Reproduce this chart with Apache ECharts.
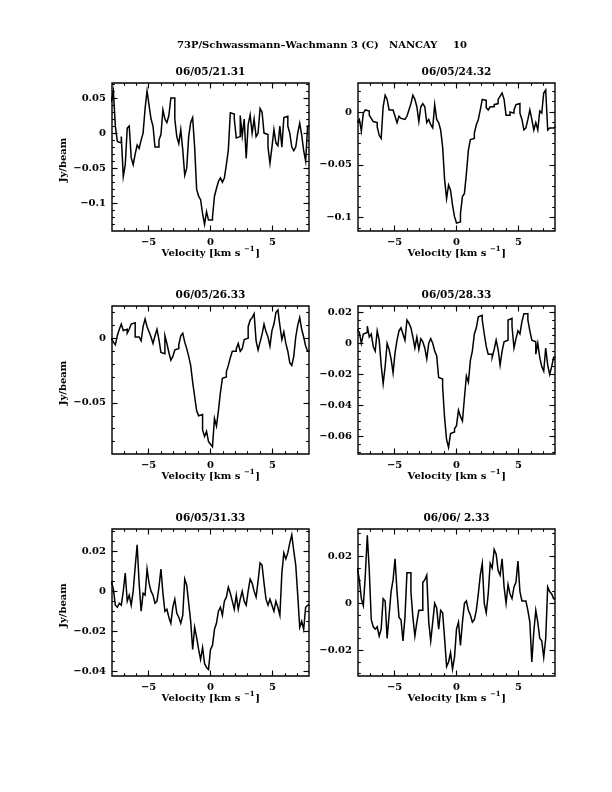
<!DOCTYPE html>
<html><head><meta charset="utf-8">
<script src="https://cdn.jsdelivr.net/npm/echarts@6/dist/echarts.min.js"></script>
<style>html,body{margin:0;padding:0;background:#fff}#c{width:612px;height:792px}</style>
</head><body><div id="c"></div>
<script>
// ---------------- data ----------------
const velocity = [
 -7.92,-7.76,-7.60,-7.44,-7.28,-7.12,-6.96,-6.80,-6.64,-6.48,
 -6.32,-6.16,-6.00,-5.84,-5.68,-5.52,-5.36,-5.20,-5.04,-4.88,
 -4.72,-4.56,-4.40,-4.24,-4.08,-3.92,-3.76,-3.60,-3.44,-3.28,
 -3.12,-2.96,-2.80,-2.64,-2.48,-2.32,-2.16,-2.00,-1.84,-1.68,
 -1.52,-1.36,-1.20,-1.04,-0.88,-0.72,-0.56,-0.40,-0.24,-0.08,
 0.08,0.24,0.40,0.56,0.72,0.88,1.04,1.20,1.36,1.52,
 1.68,1.84,2.00,2.16,2.32,2.48,2.64,2.80,2.96,3.12,
 3.28,3.44,3.60,3.76,3.92,4.08,4.24,4.40,4.56,4.72,
 4.88,5.04,5.20,5.36,5.52,5.68,5.84,6.00,6.16,6.32,
 6.48,6.64,6.80,6.96,7.12,7.28,7.44,7.60,7.76,7.92];
const channelWidth = 0.16;

const flux_0605_2131 = [
 0.045,0.06,0.01,-0.012,-0.014,-0.005,-0.062,-0.045,0.007,0.01,
 -0.035,-0.045,-0.03,-0.017,-0.022,-0.01,0.0,0.035,0.06,0.04,
 0.02,0.01,-0.02,-0.02,-0.01,-0.002,0.033,0.02,0.015,0.025,
 0.05,0.05,0.02,-0.005,-0.015,0.005,-0.024,-0.06,-0.05,-0.005,
 0.015,0.022,-0.02,-0.08,-0.09,-0.095,-0.115,-0.13,-0.112,-0.124,
 -0.124,-0.12,-0.09,-0.079,-0.069,-0.064,-0.07,-0.064,-0.045,-0.024,
 0.029,0.027,0.02,-0.007,-0.005,0.025,-0.004,0.02,-0.036,0.012,
 0.026,0.0,0.02,-0.005,0.0,0.035,0.03,0.0,-0.002,-0.02,
 -0.043,-0.02,0.005,-0.014,-0.018,0.01,-0.02,0.022,0.024,0.01,
 0.0,-0.02,-0.025,-0.02,0.0,0.014,-0.003,-0.025,-0.04,0.01];

const flux_0605_2432 = [
 -0.010,-0.007,-0.018,-0.001,0.002,0.001,-0.003,-0.006,-0.009,-0.010,
 -0.014,-0.022,-0.025,0.005,0.016,0.012,0.002,0.002,0.001,-0.004,
 -0.010,-0.004,-0.006,-0.007,-0.006,-0.004,0.002,0.008,0.016,0.012,
 0.005,-0.009,0.005,0.008,0.005,-0.010,-0.007,-0.012,-0.015,0.007,
 -0.007,-0.010,-0.017,-0.033,-0.064,-0.082,-0.069,-0.074,-0.088,-0.099,
 -0.105,-0.104,-0.096,-0.080,-0.077,-0.058,-0.036,-0.026,-0.025,-0.020,
 -0.012,-0.007,0.002,0.012,0.011,0.004,0.002,0.005,0.005,0.007,
 0.008,0.012,0.015,0.018,0.012,-0.003,-0.003,0.000,-0.001,0.002,
 0.007,0.008,-0.001,-0.007,-0.017,-0.015,-0.007,0.002,-0.007,-0.017,
 -0.010,-0.017,0.001,-0.001,0.018,0.021,-0.017,-0.015,-0.015,-0.014];

const flux_0605_2633 = [
 0.000,-0.003,-0.005,0.002,0.007,0.011,0.006,0.007,0.004,0.007,
 0.011,0.012,0.001,0.001,0.000,-0.002,0.009,0.015,0.009,0.005,
 0.001,-0.004,0.002,0.007,-0.001,-0.011,-0.012,0.002,-0.004,-0.011,
 -0.017,-0.014,-0.009,-0.008,-0.005,0.002,0.004,-0.003,-0.008,-0.014,
 -0.021,-0.034,-0.045,-0.056,-0.060,-0.059,-0.071,-0.076,-0.072,-0.080,
 -0.082,-0.084,-0.062,-0.068,-0.056,-0.042,-0.031,-0.030,-0.026,-0.021,
 -0.015,-0.010,-0.010,-0.008,-0.004,-0.010,-0.008,-0.001,0.000,0.009,
 0.014,0.016,0.019,-0.002,-0.009,-0.003,0.003,0.011,0.005,0.001,
 -0.006,0.006,0.011,0.020,0.022,0.010,-0.001,0.005,-0.004,-0.010,
 -0.019,-0.021,-0.014,0.001,0.010,0.016,0.007,0.001,-0.006,-0.010];

const flux_0605_2833 = [
 0.009,0.007,0.000,0.006,0.007,0.011,0.004,0.006,-0.002,-0.005,
 0.008,0.002,-0.014,-0.026,-0.015,0.000,-0.004,-0.010,-0.019,-0.006,
 0.002,0.008,0.010,0.006,0.002,0.015,0.013,0.010,0.004,-0.003,
 0.004,-0.004,0.003,0.001,-0.003,-0.010,0.000,0.003,0.000,-0.005,
 -0.008,-0.022,-0.023,-0.028,-0.048,-0.062,-0.067,-0.058,-0.057,-0.055,
 -0.053,-0.043,-0.047,-0.050,-0.035,-0.021,-0.025,-0.011,-0.005,0.006,
 0.010,0.017,0.018,0.015,0.006,-0.002,-0.007,-0.007,-0.009,-0.004,
 0.002,-0.004,-0.014,-0.005,0.001,0.002,0.015,0.016,0.011,-0.003,
 0.003,0.008,0.006,0.014,0.019,0.019,0.015,0.008,0.002,0.001,
 -0.007,0.000,-0.009,-0.015,-0.018,-0.003,-0.014,-0.020,-0.015,-0.009];

const flux_0605_3133 = [
 0.005,0.001,-0.007,-0.008,-0.006,-0.007,0.000,0.009,-0.005,-0.002,
 -0.007,0.000,0.012,0.023,0.004,-0.010,-0.001,-0.002,0.011,0.004,
 0.000,-0.002,-0.006,-0.005,0.002,0.011,-0.001,-0.010,-0.009,-0.013,
 -0.016,-0.008,-0.004,-0.011,-0.013,-0.016,-0.012,0.006,0.003,-0.006,
 -0.015,-0.029,-0.018,-0.023,-0.029,-0.034,-0.028,-0.036,-0.038,-0.039,
 -0.029,-0.027,-0.019,-0.016,-0.010,-0.008,-0.012,-0.005,-0.003,0.002,
 -0.001,-0.005,-0.009,-0.002,-0.009,-0.004,0.000,-0.005,-0.007,0.000,
 0.006,0.004,0.000,-0.003,0.005,0.014,0.013,0.004,-0.004,-0.007,
 -0.004,-0.007,-0.010,-0.005,-0.008,-0.012,0.009,0.019,0.016,0.019,
 0.024,0.028,0.020,0.013,-0.002,-0.018,-0.015,-0.019,-0.008,-0.007];

const flux_0606_0233 = [
 0.015,0.010,0.002,-0.001,0.012,0.029,0.014,-0.007,-0.010,-0.011,
 -0.010,-0.014,-0.011,0.002,0.001,-0.015,-0.005,0.005,0.010,0.019,
 0.005,-0.006,-0.007,-0.016,-0.006,0.013,0.013,0.005,-0.006,-0.014,
 -0.008,-0.003,-0.003,0.009,0.010,0.012,-0.008,-0.016,-0.008,0.000,
 -0.002,-0.011,-0.003,-0.004,-0.015,-0.027,-0.025,-0.021,-0.028,-0.023,
 -0.011,-0.008,-0.018,-0.008,0.000,0.001,-0.003,-0.005,-0.008,-0.007,
 -0.003,0.004,0.012,0.017,0.000,-0.004,0.004,0.017,0.015,0.023,
 0.021,0.014,0.012,0.019,0.007,0.000,0.008,0.004,0.002,0.007,
 0.009,0.018,0.005,0.001,0.001,0.001,-0.003,-0.008,-0.025,-0.012,
 -0.003,-0.008,-0.015,-0.016,-0.023,-0.015,0.007,0.005,0.004,0.002];

const panelTitles = ['06/05/21.31','06/05/24.32','06/05/26.33','06/05/28.33','06/05/31.33','06/06/ 2.33'];
const xTickLabels = [-5, 0, 5];
const xMinorTicks = [-7,-6,-5,-4,-3,-2,-1,0,1,2,3,4,5,6,7];
const yTickLabels = [
 [-0.1,-0.05,0,0.05],
 [-0.1,-0.05,0],
 [-0.05,0],
 [-0.06,-0.04,-0.02,0,0.02],
 [-0.04,-0.02,0,0.02],
 [-0.02,0,0.02]];
const fluxes = [flux_0605_2131, flux_0605_2432, flux_0605_2633, flux_0605_2833, flux_0605_3133, flux_0606_0233];
const mainTitle = ['73P/Schwassmann\u2013Wachmann 3 (C)', 'NANCAY', '10'];
const xNameParts = ['Velocity [km s ', '\u22121', ']'];
const yName = 'Jy/beam';

// ---------------- axis ranges & layout ----------------
const yRange = [[-0.1396,0.0714],[-0.1126,0.0275],[-0.0896,0.025],[-0.0712,0.024],[-0.0422,0.0309],[-0.031,0.0317]];
const yMinorStep = [0.01,0.01,0.01,0.005,0.005,0.005];
const xRange = [-7.95, 7.95];
const boxes = [
 {left:112, top:83, width:197, height:148},
 {left:358, top:83, width:197, height:148},
 {left:112, top:306, width:197, height:148},
 {left:358, top:306, width:197, height:148},
 {left:112, top:529, width:197, height:147},
 {left:358, top:529, width:197, height:147}];
const titleX = [177, 389, 453];

const FONT = '"DejaVu Serif", serif';
const fmt = v => v === 0 ? '0' : String(v).replace('-', '\u2212');
function minorTicks(min, max, step) {
  const out = [];
  for (let k = Math.ceil(min / step - 1e-9); k * step <= max + 1e-12; k++) out.push(+(k * step).toFixed(6));
  return out;
}
const mctx = document.createElement('canvas').getContext('2d');
function textW(t, font) { mctx.font = font; return mctx.measureText(t).width; }

const labelStyle = {color:'#000', fontFamily:FONT, fontWeight:'bold', fontSize:10};
const MAJ = 5.5, MIN = 2.8;

const grid = [], xAxis = [], yAxis = [], series = [], graphic = [];
boxes.forEach((b, g) => {
  grid.push({left:b.left, top:b.top, width:b.width, height:b.height, show:true, borderColor:'#000', borderWidth:1.4, backgroundColor:'transparent'});
  const xc = {type:'value', gridIndex:g, min:xRange[0], max:xRange[1], axisLine:{show:false, onZero:false}, splitLine:{show:false}};
  const tick = (vals, len) => ({show:true, inside:true, length:len, customValues:vals, lineStyle:{color:'#000', width:1.1}});
  xAxis.push(Object.assign({}, xc, {position:'bottom', axisTick:tick(xTickLabels, MAJ), axisLabel:Object.assign({show:true, customValues:xTickLabels, formatter:fmt, margin:6}, labelStyle)}));
  xAxis.push(Object.assign({}, xc, {position:'bottom', axisTick:tick(xMinorTicks, MIN), axisLabel:{show:false}}));
  xAxis.push(Object.assign({}, xc, {position:'top', axisTick:tick(xTickLabels, MAJ), axisLabel:{show:false}}));
  xAxis.push(Object.assign({}, xc, {position:'top', axisTick:tick(xMinorTicks, MIN), axisLabel:{show:false}}));

  const [ymin, ymax] = yRange[g];
  const ym = minorTicks(ymin, ymax, yMinorStep[g]);
  const yc = {type:'value', gridIndex:g, min:ymin, max:ymax, axisLine:{show:false, onZero:false}, splitLine:{show:false}};
  yAxis.push(Object.assign({}, yc, {position:'left', axisTick:tick(yTickLabels[g], MAJ), axisLabel:Object.assign({show:true, customValues:yTickLabels[g], formatter:fmt, margin:6}, labelStyle)}));
  yAxis.push(Object.assign({}, yc, {position:'left', axisTick:tick(ym, MIN), axisLabel:{show:false}}));
  yAxis.push(Object.assign({}, yc, {position:'right', axisTick:tick(yTickLabels[g], MAJ), axisLabel:{show:false}}));
  yAxis.push(Object.assign({}, yc, {position:'right', axisTick:tick(ym, MIN), axisLabel:{show:false}}));

  // histogram (binned spectrum): each channel drawn as a flat step across its width
  const pts = [];
  velocity.forEach((v, i) => {
    pts.push([v - channelWidth / 2, fluxes[g][i]]);
    pts.push([v + channelWidth / 2, fluxes[g][i]]);
  });
  series.push({type:'line', xAxisIndex:g*4, yAxisIndex:g*4, showSymbol:false, symbol:'none',
    lineStyle:{color:'#000', width:1.5, join:'miter'}, silent:true, data: pts});

  const cx = b.left + b.width / 2;
  graphic.push({type:'text', x:cx, y:b.top - 10.6, silent:true,
    style:{text:panelTitles[g], font:'bold 10.5px ' + FONT, fill:'#000', align:'center', verticalAlign:'middle'}});
  // x-axis name with superscript
  const f1 = 'bold 10px ' + FONT, f2 = 'bold 7px ' + FONT;
  const w1 = textW(xNameParts[0], f1), w2 = textW(xNameParts[1], f2), w3 = textW(xNameParts[2], f1);
  const x0 = cx - (w1 + w2 + w3) / 2, yN = b.top + b.height + 22;
  graphic.push({type:'text', x:x0, y:yN, silent:true, style:{text:xNameParts[0], font:f1, fill:'#000', align:'left', verticalAlign:'middle'}});
  graphic.push({type:'text', x:x0 + w1, y:yN - 4, silent:true, style:{text:xNameParts[1], font:f2, fill:'#000', align:'left', verticalAlign:'middle'}});
  graphic.push({type:'text', x:x0 + w1 + w2 + 0.5, y:yN, silent:true, style:{text:xNameParts[2], font:f1, fill:'#000', align:'left', verticalAlign:'middle'}});
  if (g % 2 === 0) {
    graphic.push({type:'text', x:63, y:b.top + b.height / 2 + 3, rotation:Math.PI / 2, silent:true,
      style:{text:yName, font:'bold 10px ' + FONT, fill:'#000', align:'center', verticalAlign:'middle'}});
  }
});
mainTitle.forEach((t, k) => {
  graphic.push({type:'text', x:titleX[k], y:45, silent:true,
    style:{text:t, font:'bold 10px ' + FONT, fill:'#000', align:'left', verticalAlign:'middle'}});
});

const chart = echarts.init(document.getElementById('c'), null, {renderer:'canvas', width:612, height:792});
chart.setOption({backgroundColor:'#fff', animation:false, grid, xAxis, yAxis, series, graphic});
</script></body></html>
